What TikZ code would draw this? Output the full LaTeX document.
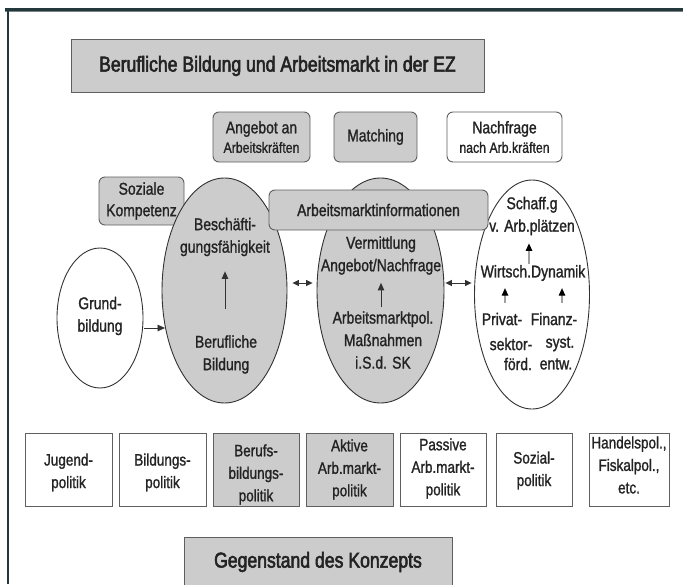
\documentclass[tikz,border=0pt]{standalone}
\usepackage{fontspec}
\setmainfont{Liberation Sans}[FakeStretch=0.82, FakeBold=1.2]
\newfontfamily\titlefont{Liberation Sans}[FakeStretch=0.82, FakeBold=2.5]
\usetikzlibrary{shapes.geometric,arrows.meta,calc}
\definecolor{gfill}{RGB}{204,204,204}
\definecolor{bline}{RGB}{95,95,95}
\definecolor{eline}{RGB}{50,50,50}
\definecolor{tcol}{RGB}{35,35,35}
\definecolor{framec}{RGB}{34,56,59}
\definecolor{framel}{RGB}{120,132,134}
\definecolor{ashaft}{RGB}{160,160,160}
\begin{document}
\begin{tikzpicture}[x=1pt,y=-1pt,
  every node/.style={text=tcol, inner sep=0pt, align=center, font=\fontsize{17}{22.5}\selectfont},
  bigtxt/.style={font=\titlefont\fontsize{21.5}{25}\selectfont},
  sqbox/.style={draw=bline, line width=0.9pt},
  rbox/.style={draw=bline, line width=0.9pt, rounded corners=6pt},
  pbox/.style={draw=bline, line width=0.9pt, minimum height=73},
  ptxt/.style={font=\fontsize{16.5}{22.5}\selectfont},
  oval/.style={ellipse, draw=eline, line width=0.9pt},
  arr/.style={-{Triangle[length=7.5pt,width=6.5pt]}, line width=0.8pt, draw=eline},
  garr/.style={-{Triangle[length=7.5pt,width=6.5pt,color=black]}, line width=1.2pt, draw=ashaft},
  dbl/.style={{Triangle[length=6.5pt,width=6pt]}-{Triangle[length=6.5pt,width=6pt]}, line width=0.8pt, draw=eline}
]
\useasboundingbox (0,0) rectangle (683,584);
\clip (0,0) rectangle (683,584);
\fill[white] (0,0) rectangle (683,584);

% frame
\draw[framel, line width=1pt] (5,11.2) -- (683,11.2);
\draw[framec, line width=2.6pt] (5,9.3) -- (683,9.3);
\draw[framec, line width=2.3pt] (8.2,8) -- (8.2,584);

% title
\node[sqbox, fill=gfill, minimum width=413, minimum height=53, bigtxt] (title) at (277.5,66) {Berufliche Bildung und Arbeitsmarkt in der EZ};

% top boxes
\node[rbox, fill=gfill, minimum width=97, minimum height=50] (ang) at (261.5,137)
  {Angebot an\\[-3pt]{\fontsize{15}{18}\selectfont Arbeitskräften}};
\node[rbox, fill=gfill, minimum width=83, minimum height=50] (match) at (375.5,137) {Matching};
\node[rbox, fill=white, minimum width=115, minimum height=50] (nach) at (504.5,137)
  {Nachfrage\\[-3pt]{\fontsize{15}{18}\selectfont nach Arb.kräften}};
\node[rbox, fill=gfill, minimum width=85, minimum height=48] (soz) at (141.5,201) {Soziale\\[-1pt]Kompetenz};

% ellipses
\node[oval, fill=white, minimum width=86, minimum height=140] (grund) at (100,318) {};
\node[oval, fill=gfill, minimum width=125, minimum height=225] (ell1) at (224.5,290.5) {};
\node[oval, fill=gfill, minimum width=127, minimum height=225] (ell2) at (380.5,290.5) {};
\node[oval, fill=white, minimum width=115, minimum height=229] (ell3) at (532,294.5) {};

% information bar
\node[rbox, fill=gfill, minimum width=219, minimum height=40] (info) at (378.5,210) {Arbeitsmarktinformationen};

% texts in ellipses
\node (grundt) at (100,316) {Grund-\\bildung};
\node (besch) at (225,237) {Beschäfti-\\gungsfähigkeit};
\node (beruf) at (226,354.5) {Berufliche\\Bildung};
\node (verm) at (381,255.5) {Vermittlung\\Angebot/Nachfrage};
\node (amp) at (383,340) {Arbeitsmarktpol.\\Maßnahmen\\i.S.d. SK};
\node (schaff) at (532,216) {Schaff.g\\v. Arb.plätzen};
\node (wirt) at (533,273) {Wirtsch.Dynamik};
\node (p1) at (502,319) {Privat-};
\node (p2) at (511,344) {sektor-};
\node (p3) at (518,364) {förd.};
\node (f1) at (554,319) {Finanz-};
\node (f2) at (560,344) {syst.};
\node (f3) at (556,364) {entw.};

% arrows
\draw[arr] ($(grund.east)+(1,10)$) -- ($(ell1.west)+(3.5,37.5)$);
\draw[arr] ($(beruf.north)+(-1,-26)$) -- ($(besch.south)+(0,15)$);
\draw[arr] ($(amp.north)+(-2,-4)$) -- ($(verm.south)+(0,8)$);
\draw[garr] ($(wirt.north)+(-4,-1)$) -- ($(schaff.south)+(-3,8)$);
\draw[garr] ($(p1.north)+(3,-10)$) -- ($(wirt.south)+(-28,7)$);
\draw[garr] ($(f1.north)+(8,-10)$) -- ($(wirt.south)+(29,7)$);
\draw[dbl] ($(ell1.east)+(5,-7.5)$) -- ($(ell2.west)+(-4,-7.5)$);
\draw[dbl] ($(ell2.east)+(1,-7.5)$) -- ($(ell3.west)+(-2.5,-11.5)$);

% bottom policy boxes
\node[pbox, fill=white, minimum width=87] (jug) at (68.5,469.5) {};
\node[pbox, fill=white, minimum width=87] (bil) at (162.5,469.5) {};
\node[pbox, fill=gfill, minimum width=86] (ber) at (256,469.5) {};
\node[pbox, fill=gfill, minimum width=87] (akt) at (349.5,469.5) {};
\node[pbox, fill=white, minimum width=86] (pas) at (443,469.5) {};
\node[pbox, fill=white, minimum width=76] (sozp) at (534,469.5) {};
\node[pbox, fill=white, minimum width=80] (han) at (629,469.5) {};
\node[ptxt] (jugt) at (68.5,472.5) {Jugend-\\politik};
\node[ptxt] (bilt) at (162.5,472.5) {Bildungs-\\politik};
\node[ptxt] (bert) at (256,474.5) {Berufs-\\bildungs-\\politik};
\node[ptxt] (aktt) at (349.5,469.5) {Aktive\\Arb.markt-\\politik};
\node[ptxt] (past) at (443,468.5) {Passive\\Arb.markt-\\politik};
\node[ptxt] (sozpt) at (534,470.5) {Sozial-\\politik};
\node[ptxt] (hant) at (629,465) {Handelspol.,\\Fiskalpol.,\\etc.};

% bottom title
\node[sqbox, fill=gfill, minimum width=268, minimum height=83] (gegen) at (318,578.5) {};
\node[bigtxt] (gegent) at (318,562) {Gegenstand des Konzepts};
\end{tikzpicture}
\end{document}
